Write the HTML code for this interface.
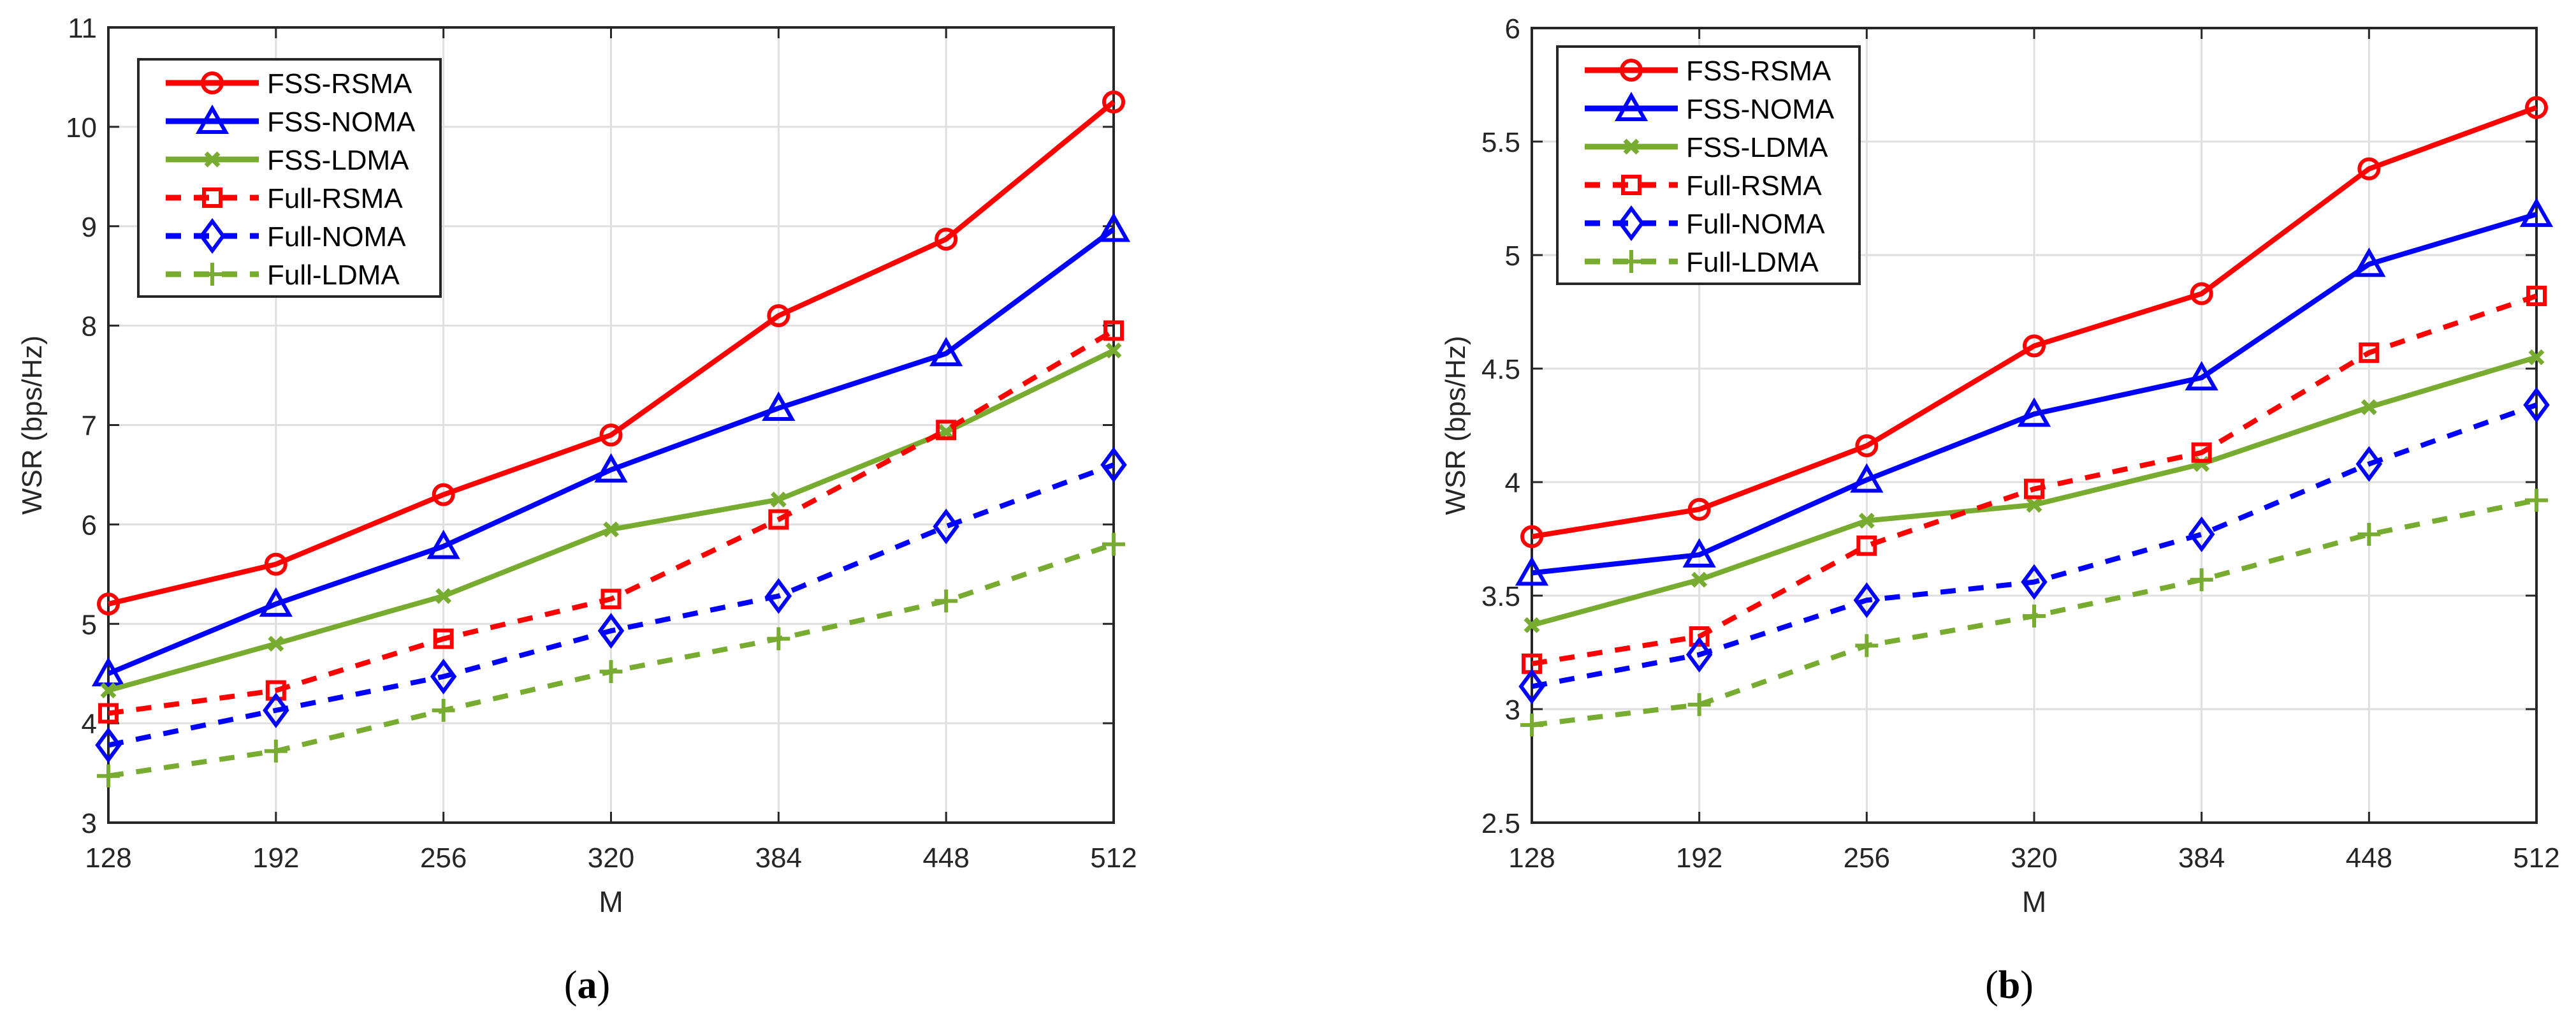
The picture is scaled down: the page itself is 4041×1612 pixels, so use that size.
<!DOCTYPE html>
<html><head><meta charset="utf-8"><style>
html,body{margin:0;padding:0;background:#fff;}
svg{display:block;font-family:"Liberation Sans",Arial,sans-serif;}
</style></head><body>
<svg id="root" width="4041" height="1612" viewBox="0 0 4041 1612" xmlns="http://www.w3.org/2000/svg"></svg>
<script>
const NS="http://www.w3.org/2000/svg";
const categories=[128,192,256,320,384,448,512];
const seriesNames=["FSS-RSMA","FSS-NOMA","FSS-LDMA","Full-RSMA","Full-NOMA","Full-LDMA"];
const aFssRsma=[5.2,5.6,6.3,6.9,8.1,8.87,10.25];
const aFssNoma=[4.5,5.2,5.78,6.55,7.17,7.72,8.97];
const aFssLdma=[4.33,4.8,5.28,5.95,6.25,6.93,7.75];
const aFullRsma=[4.1,4.33,4.85,5.25,6.05,6.95,7.95];
const aFullNoma=[3.78,4.13,4.47,4.93,5.28,5.98,6.6];
const aFullLdma=[3.47,3.72,4.13,4.52,4.85,5.23,5.8];
const bFssRsma=[3.76,3.88,4.16,4.6,4.83,5.38,5.65];
const bFssNoma=[3.6,3.68,4.01,4.3,4.46,4.96,5.18];
const bFssLdma=[3.37,3.57,3.83,3.9,4.08,4.33,4.55];
const bFullRsma=[3.2,3.32,3.72,3.97,4.13,4.57,4.82];
const bFullNoma=[3.1,3.24,3.48,3.56,3.77,4.08,4.34];
const bFullLdma=[2.93,3.02,3.28,3.41,3.57,3.77,3.92];
const aYTicks=[3,4,5,6,7,8,9,10,11];
const bYTicks=[2.5,3,3.5,4,4.5,5,5.5,6];

const styles=[
 {c:"#ff0000",dash:null,m:"circle"},
 {c:"#0000ff",dash:null,m:"triangle"},
 {c:"#77ac30",dash:null,m:"x"},
 {c:"#ff0000",dash:"24 20",m:"square"},
 {c:"#0000ff",dash:"24 20",m:"diamond"},
 {c:"#77ac30",dash:"24 20",m:"plus"}];

const root=document.getElementById('root');
function el(tag,attrs,parent){const e=document.createElementNS(NS,tag);for(const k in attrs)e.setAttribute(k,attrs[k]);(parent||root).appendChild(e);return e;}

function marker(g,type,x,y,c){
  let m;
  if(type==="circle"){m=el('circle',{cx:x,cy:y,r:15,fill:"none",stroke:c,"stroke-width":6},g);}
  else if(type==="triangle"){m=el('polygon',{points:`${x},${y-20} ${x+21},${y+17} ${x-21},${y+17}`,fill:"none",stroke:c,"stroke-width":6},g);}
  else if(type==="x"){m=el('path',{d:`M${x-10},${y-10}L${x+10},${y+10}M${x-10},${y+10}L${x+10},${y-10}`,stroke:c,"stroke-width":7},g);}
  else if(type==="square"){m=el('rect',{x:x-13,y:y-13,width:26,height:26,fill:"none",stroke:c,"stroke-width":6},g);}
  else if(type==="diamond"){m=el('polygon',{points:`${x},${y-23} ${x+17},${y} ${x},${y+23} ${x-17},${y}`,fill:"none",stroke:c,"stroke-width":6},g);}
  else {m=el('path',{d:`M${x-18},${y}L${x+18},${y}M${x},${y-18}L${x},${y+18}`,stroke:c,"stroke-width":6},g);}
  
  
}

function chart(id,x0,x1,y0,y1,ymin,ymax,yTicks,data,legX,legY,label,labelX){
  const g=el('g',{});
  
  
  const xs=v=>x0+(v-categories[0])/(categories[categories.length-1]-categories[0])*(x1-x0);
  const ys=v=>y1-(v-ymin)/(ymax-ymin)*(y1-y0);
  el('rect',{x:x0,y:y0,width:x1-x0,height:y1-y0,fill:"#fff"},g);
  const grid=el('g',{},g);
  
  
  categories.forEach(c=>el('line',{x1:xs(c),x2:xs(c),y1:y0,y2:y1,stroke:"#dfdfdf","stroke-width":3},grid));
  yTicks.forEach(t=>el('line',{x1:x0,x2:x1,y1:ys(t),y2:ys(t),stroke:"#dfdfdf","stroke-width":3},grid));
  const ax=el('g',{},g);
  
  
  categories.forEach(c=>{
    el('line',{x1:xs(c),x2:xs(c),y1:y1,y2:y1-17,stroke:"#262626","stroke-width":3},ax);
    el('line',{x1:xs(c),x2:xs(c),y1:y0,y2:y0+17,stroke:"#262626","stroke-width":3},ax);
    const t=el('text',{x:xs(c),y:1360,"font-size":44,"text-anchor":"middle",fill:"#262626"},ax);t.textContent=c;
    
    
  });
  yTicks.forEach(v=>{
    el('line',{x1:x0,x2:x0+17,y1:ys(v),y2:ys(v),stroke:"#262626","stroke-width":3},ax);
    el('line',{x1:x1,x2:x1-17,y1:ys(v),y2:ys(v),stroke:"#262626","stroke-width":3},ax);
    const t=el('text',{x:x0-18,y:ys(v)+16,"font-size":44,"text-anchor":"end",fill:"#262626"},ax);t.textContent=v;
    
    
  });
  el('rect',{x:x0,y:y0,width:x1-x0,height:y1-y0,fill:"none",stroke:"#262626","stroke-width":4},ax);
  const xt=el('text',{x:(x0+x1)/2,y:1430,"font-size":46,"text-anchor":"middle",fill:"#262626"},g);xt.textContent="M";
  
  
  const yt=el('text',{x:0,y:0,"font-size":44,"text-anchor":"middle",fill:"#262626",transform:`translate(${x0-105},${(y0+y1)/2}) rotate(-90)`},g);yt.textContent="WSR (bps/Hz)";
  
  
  data.forEach((arr,i)=>{
    const s=styles[i];
    const sg=el('g',{},g);
    
    
    const pts=arr.map((v,j)=>xs(categories[j])+","+ys(v)).join(" ");
    const a={points:pts,fill:"none",stroke:s.c,"stroke-width":8,"stroke-linejoin":"round"};
    if(s.dash)a["stroke-dasharray"]=s.dash;
    el('polyline',a,sg);
    arr.forEach((v,j)=>marker(sg,s.m,xs(categories[j]),ys(v),s.c));
  });
  const lg=el('g',{},g);
  
  
  el('rect',{x:legX,y:legY,width:474,height:372,fill:"#fff",stroke:"#262626","stroke-width":4},lg);
  seriesNames.forEach((n,i)=>{
    const s=styles[i];
    const ry=legY+37+i*60;
    const eg=el('g',{},lg);
    
    
    const a={x1:legX+43,x2:legX+189,y1:ry,y2:ry,stroke:s.c,"stroke-width":9};
    if(s.dash)a["stroke-dasharray"]=s.dash;
    el('line',a,eg);
    marker(eg,s.m,legX+116,ry,s.c);
    const t=el('text',{x:legX+202,y:ry+16,"font-size":44,fill:"#000"},eg);t.textContent=n;
  });
  const cl=el('text',{x:labelX,y:1565,"font-size":62,"text-anchor":"middle","font-family":"Liberation Serif, serif",fill:"#000"},g);
  cl.innerHTML='(<tspan font-weight="bold">'+label+'</tspan>)';
  
  
}
chart('chart-a',170,1747,43,1290,3,11,aYTicks,[aFssRsma,aFssNoma,aFssLdma,aFullRsma,aFullNoma,aFullLdma],217,93,'a',921);
chart('chart-b',2403,3979,44,1290,2.5,6,bYTicks,[bFssRsma,bFssNoma,bFssLdma,bFullRsma,bFullNoma,bFullLdma],2443,73,'b',3152);
</script>
</body></html>
